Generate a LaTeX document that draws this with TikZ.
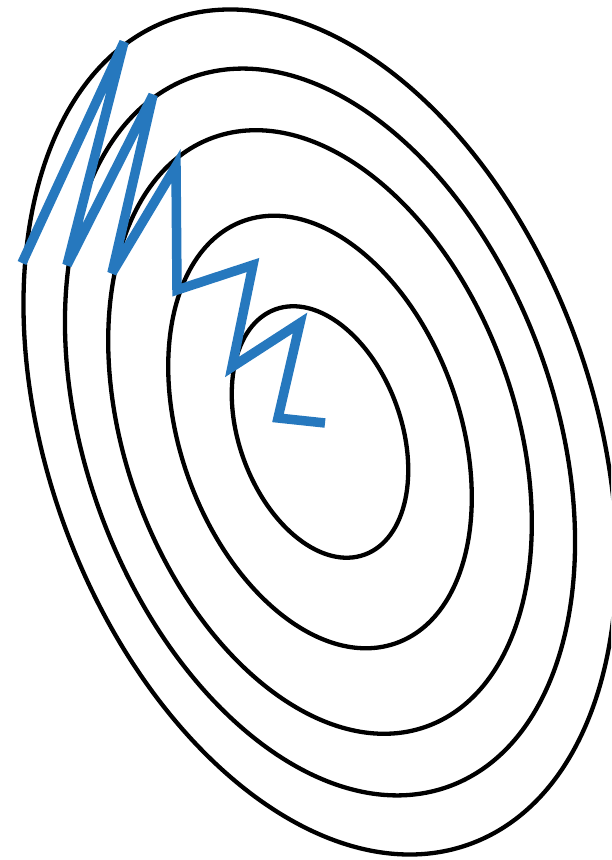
\documentclass[tikz,border=0pt]{standalone}
\definecolor{pathblue}{RGB}{38,120,190}
\begin{document}
\begin{tikzpicture}[x=1pt,y=1pt,
  contour/.style={draw=black, line width=4.3pt},
  descent/.style={draw=pathblue, line width=9.5pt, line cap=butt, line join=miter, miter limit=4}]
\useasboundingbox (0,0) rectangle (611,860);
\fill[white] (0,0) rectangle (611,860);
\coordinate (c) at (320,428);
\begin{scope}
\clip (0,0) rectangle (611,860);
\begin{scope}[shift={(c)}, rotate=20]
  \foreach \s in {1,1.72,2.40,2.89,3.36}
    \draw[contour] (0,0) ellipse [x radius=81*\s, y radius=130.5*\s];
\end{scope}
\end{scope}
\coordinate (p1) at (22,597);
\coordinate (p2) at (124,818);
\coordinate (p3) at (67,595);
\coordinate (p4) at (153,765);
\coordinate (p5) at (112,587);
\coordinate (p6) at (176,694);
\coordinate (p7) at (177,570);
\coordinate (p8) at (253,595);
\coordinate (p9) at (232,493);
\coordinate (p10) at (300,537);
\coordinate (p11) at (278,442);
\coordinate (p12) at (325,437);
\draw[descent] (p1) -- (p2) -- (p3) -- (p4) -- (p5) -- (p6) -- (p7) -- (p8) -- (p9) -- (p10) -- (p11) -- (p12);
\end{tikzpicture}
\end{document}
